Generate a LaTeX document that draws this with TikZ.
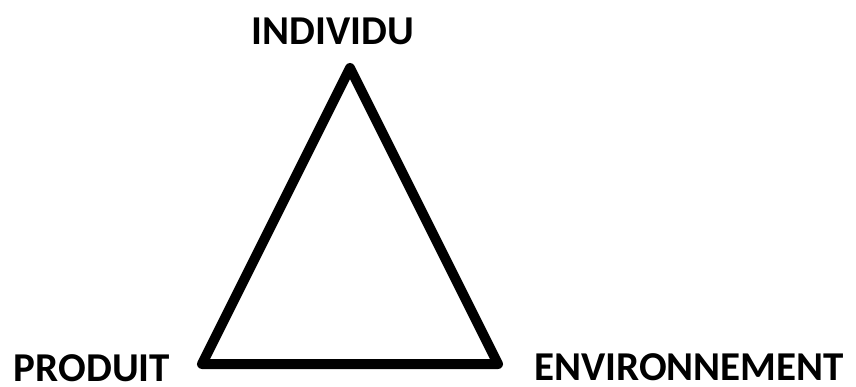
\documentclass[tikz,border=0pt]{standalone}
\usepackage{fontspec}
\setmainfont{Carlito}
\usetikzlibrary{positioning}

\begin{document}
\begin{tikzpicture}[
  x=1pt, y=-1pt,
  lbl/.style={font=\fontsize{41}{41}\selectfont\bfseries, inner sep=0pt, anchor=base},
  side/.style={line width=10pt, line join=round, line cap=round}
]
\useasboundingbox (0,0) rectangle (856,387);
% corners of the triangle
\coordinate (top) at (350,68);
\coordinate (left) at (202,364);
\coordinate (right) at (498,364);
\node[lbl] (individu) at (333,45) {INDIVIDU};
\node[lbl] (produit) at (92,381) {PRODUIT};
\node[lbl] (environnement) at (689,380) {ENVIRONNEMENT};
\draw[side] (top) -- (right) -- (left) -- cycle;
\end{tikzpicture}
\end{document}
